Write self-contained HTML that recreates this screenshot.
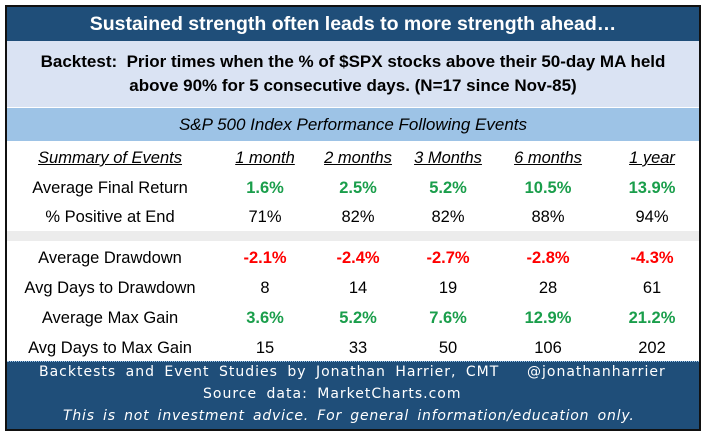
<!DOCTYPE html>
<html><head><meta charset="utf-8"><style>
body{margin:0;width:706px;height:437px;background:#fff;position:relative;overflow:hidden;font-family:"Liberation Sans",sans-serif}
.a{position:absolute}
.t{position:absolute;white-space:nowrap;transform:translateX(-50%);font-size:16.5px;color:#000}
.g{color:#1a9e4b;font-weight:bold}
.r{color:#ff0000;font-weight:bold}
.h{font-style:italic;text-decoration:underline}
.f{position:absolute;white-space:nowrap;color:#fff;font-family:"DejaVu Sans",sans-serif;font-size:14px;letter-spacing:1px;word-spacing:4px}
</style></head><body>
<div class="a" style="left:5px;top:5px;width:692px;height:422px;border:2px solid #111;"></div>
<div class="a" style="left:7px;top:7px;width:692px;height:34px;background:#1f4e79;color:#fff;font-weight:bold;font-size:19.5px;text-align:center;line-height:34px">Sustained strength often leads to more strength ahead…</div>
<div class="a" style="left:7px;top:41px;width:692px;height:66px;background:#dae3f3;font-weight:bold;font-size:17px;text-align:center;line-height:24px;padding-top:9px;box-sizing:border-box">Backtest:&nbsp; Prior times when the % of $SPX stocks above their 50-day MA held<br>above 90% for 5 consecutive days. (N=17 since Nov-85)</div>
<div class="a" style="left:7px;top:108px;width:692px;height:33px;background:#9dc3e6;font-style:italic;font-size:17px;text-align:center;line-height:33px">S&amp;P 500 Index Performance Following Events</div>
<div class="a" style="left:7px;top:231px;width:692px;height:10px;background:#ececec"></div>
<div id="tbl"></div>
<div class="a" style="left:7px;top:361px;width:692px;height:67px;background:#1f4e79;border-top:1px dotted #9dc3e6"></div>
<div class="f" style="left:39px;top:364px">Backtests and Event Studies by Jonathan Harrier, CMT</div>
<div class="f" style="left:527px;top:364px">@jonathanharrier</div>
<div class="f" style="left:203px;top:386px">Source data: MarketCharts.com</div>
<div class="f" style="left:63px;top:408px;font-style:italic;letter-spacing:0.8px;word-spacing:3px">This is not investment advice. For general information/education only.</div>
<script>
const headers=["Summary of Events","1 month","2 months","3 Months","6 months","1 year"];
const rowLabels=["Average Final Return","% Positive at End","Average Drawdown","Avg Days to Drawdown","Average Max Gain","Avg Days to Max Gain"];
const rowValues=[["1.6%","2.5%","5.2%","10.5%","13.9%"],["71%","82%","82%","88%","94%"],["-2.1%","-2.4%","-2.7%","-2.8%","-4.3%"],["8","14","19","28","61"],["3.6%","5.2%","7.6%","12.9%","21.2%"],["15","33","50","106","202"]];
const rowStyle=["g","","r","","g",""];
const colX=[110,265,358,448,548,652];
const rowY=[179,208,249,279,309,339];
const tbl=document.getElementById('tbl');
headers.forEach((h,i)=>{const d=document.createElement('div');d.className='t h';d.style.left=colX[i]+'px';d.style.top='149px';d.textContent=h;


tbl.appendChild(d);});
rowLabels.forEach((l,r)=>{const d=document.createElement('div');d.className='t';d.style.left=colX[0]+'px';d.style.top=rowY[r]+'px';d.textContent=l;


tbl.appendChild(d);
rowValues[r].forEach((v,c)=>{const e=document.createElement('div');e.className='t '+rowStyle[r];e.style.left=colX[c+1]+'px';e.style.top=rowY[r]+'px';e.textContent=v;


tbl.appendChild(e);});});
</script>
</body></html>
